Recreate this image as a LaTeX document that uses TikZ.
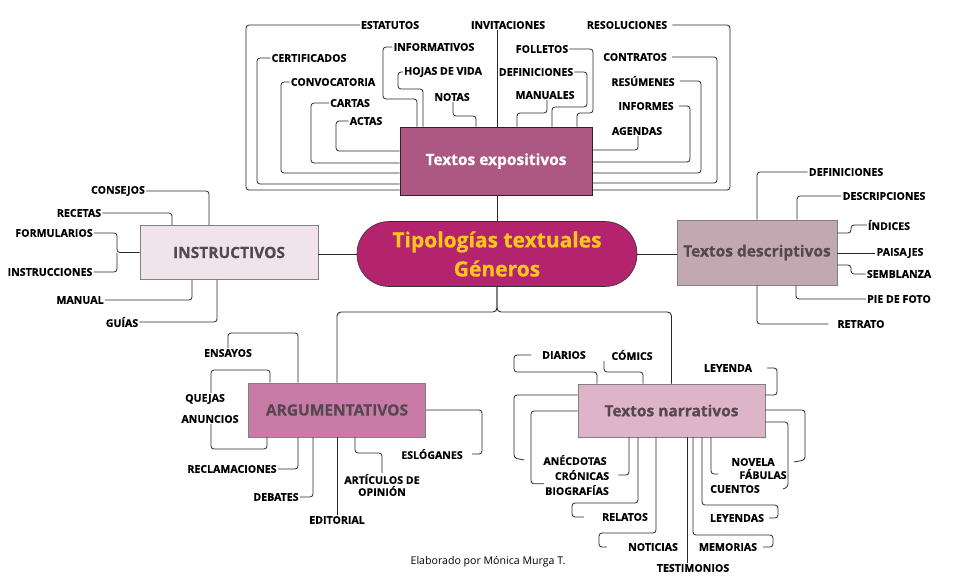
\documentclass[tikz,border=0pt]{standalone}
\usepackage{fontspec}
\setmainfont{Open Sans}
\definecolor{tipoC}{RGB}{180,35,110}
\definecolor{yelC}{RGB}{250,198,30}
\definecolor{expoC}{RGB}{173,87,131}
\definecolor{instrC}{RGB}{240,227,234}
\definecolor{descC}{RGB}{193,168,177}
\definecolor{arguC}{RGB}{199,123,166}
\definecolor{narrC}{RGB}{221,180,200}
\definecolor{boxtxt}{RGB}{85,72,78}
\definecolor{edgeC}{RGB}{40,40,40}
\begin{document}
\begin{tikzpicture}[x=1pt,y=-1pt]
        \tikzstyle{leaf}=[inner sep=1pt, font=\bfseries\fontsize{10.6}{12}\selectfont\addfontfeatures{FakeBold=0.5}, text=black, align=center]
        \tikzstyle{hub}=[rectangle, draw=gray, line width=0.6pt, inner sep=0pt, font=\bfseries\fontsize{15.5}{18}\selectfont\addfontfeatures{FakeBold=0.5}, text=boxtxt]
        \tikzstyle{link}=[edgeC, line width=0.8pt, rounded corners=3pt]
        \tikzstyle{main}=[edgeC, line width=0.9pt, rounded corners=4pt]

        \useasboundingbox (0,0) rectangle (966,578);

        % central node and the five groups
        \node[hub, draw=black!80, fill=tipoC, text=yelC, rounded corners=32pt, minimum width=280pt, minimum height=65pt, align=center, font=\bfseries\fontsize{21}{29}\selectfont\addfontfeatures{FakeBold=0.5}] (tipo) at (497,254) {Tipologías textuales\\Géneros};
        \node[hub, draw=black!85, fill=expoC, text=white, minimum width=192pt, minimum height=68pt] (expo) at (496,161) {Textos expositivos};
        \node[hub, fill=instrC, minimum width=178pt, minimum height=54pt] (instr) at (229,252.5) {INSTRUCTIVOS};
        \node[hub, fill=descC, minimum width=160pt, minimum height=65pt] (desc) at (757,252.5) {Textos descriptivos};
        \node[hub, fill=arguC, minimum width=177pt, minimum height=54pt] (argu) at (337,410) {ARGUMENTATIVOS};
        \node[hub, fill=narrC, minimum width=187pt, minimum height=53pt] (narr) at (671.5,410.5) {Textos narrativos};

        \draw[main] (tipo.north) -- (tipo.north |- expo.south);
        \draw[main] (tipo.west) -- (instr.east |- tipo.west);
        \draw[main] (tipo.east) -- (desc.west |- tipo.east);
        \draw[main] (tipo.south) -- (497,312) -| (argu.north);
        \draw[main] (tipo.south) -- (497,312) -| (narr.north);

        % expositivos
        \node[leaf] (estatutos)    at (390,25)  {ESTATUTOS};
        \node[leaf] (invitaciones) at (508,25)  {INVITACIONES};
        \node[leaf] (resoluciones) at (627,25)  {RESOLUCIONES};
        \node[leaf] (certificados) at (309,58)  {CERTIFICADOS};
        \node[leaf] (informativos) at (434,47)  {INFORMATIVOS};
        \node[leaf] (folletos)     at (542,49)  {FOLLETOS};
        \node[leaf] (contratos)    at (635,57)  {CONTRATOS};
        \node[leaf] (convocatoria) at (333,82)  {CONVOCATORIA};
        \node[leaf] (hojas)        at (443,72)  {HOJAS DE VIDA};
        \node[leaf] (defexpo)      at (536,72)  {DEFINICIONES};
        \node[leaf] (resumenes)    at (643,81)  {RESÚMENES};
        \node[leaf] (cartas)       at (350,103) {CARTAS};
        \node[leaf] (notas)        at (452,97)  {NOTAS};
        \node[leaf] (manuales)     at (545,95)  {MANUALES};
        \node[leaf] (informes)     at (646,106) {INFORMES};
        \node[leaf] (actas)        at (366,121) {ACTAS};
        \node[leaf] (agendas)      at (637,131) {AGENDAS};

        \draw[link] (estatutos.west) -| (246,190) -- (expo.west |- 0,190);
        \draw[link] (certificados.west) -| (257,184) -- (expo.west |- 0,184);
        \draw[link] (convocatoria.west) -| (281,173) -- (expo.west |- 0,173);
        \draw[link] (cartas.west) -| (311,163) -- (expo.west |- 0,163);
        \draw[link] (actas.west) -| (336,151) -- (expo.west |- 0,151);
        \draw[link] (informativos.west) -| (383,99) -| (expo.north -| 417,0);
        \draw[link] (hojas.west) -| (398,89) -| (expo.north -| 423,0);
        \draw[link] (notas.south -| 453,0) |- (476,116) -- (expo.north -| 476,0);
        \draw[link] (invitaciones.south -| 497,0) -- (expo.north -| 497,0);
        \draw[link] (folletos.east) -| (593,113) -| (expo.north -| 577,0);
        \draw[link] (defexpo.east) -| (587,107) -| (expo.north -| 552,0);
        \draw[link] (manuales.south -| 547,0) |- (517,113) -- (expo.north -| 517,0);
        \draw[link] ([xshift=4]resoluciones.east) -| (730,190) -- (expo.east |- 0,190);
        \draw[link] ([xshift=4]contratos.east) -| (717,183) -- (expo.east |- 0,183);
        \draw[link] ([xshift=4]resumenes.east) -| (701,173) -- (expo.east |- 0,173);
        \draw[link] ([xshift=4]informes.east) -| (690,162) -- (expo.east |- 0,162);
        \draw[link] (agendas.south -| 638,0) |- (expo.east |- 0,150);

        % instructivos
        \node[leaf] (consejos)      at (118,191) {CONSEJOS};
        \node[leaf] (recetas)       at (79,213)  {RECETAS};
        \node[leaf] (formularios)   at (54,233)  {FORMULARIOS};
        \node[leaf] (instrucciones) at (50,272)  {INSTRUCCIONES};
        \node[leaf] (manual)        at (80,300)  {MANUAL};
        \node[leaf] (guias)         at (122,322) {GUÍAS};

        \draw[link] (consejos.east) -| (instr.north -| 209,0);
        \draw[link] (recetas.east) -| (instr.north -| 172,0);
        \draw[link] (formularios.east) -| (117,252.5) -- (instr.west);
        \draw[link] (instrucciones.east) -| (117,252.5);
        \draw[link] (manual.east) -| (instr.south -| 192,0);
        \draw[link] (guias.east) -| (instr.south -| 217,0);

        % descriptivos
        \node[leaf] (defdesc)   at (846,172) {DEFINICIONES};
        \node[leaf] (descripc)  at (884,196) {DESCRIPCIONES};
        \node[leaf] (indices)   at (889,225) {ÍNDICES};
        \node[leaf] (paisajes)  at (900,253) {PAISAJES};
        \node[leaf] (semblanza) at (899,274) {SEMBLANZA};
        \node[leaf] (piefoto)   at (899,299) {PIE DE FOTO};
        \node[leaf] (retrato)   at (861,324) {RETRATO};

        \draw[link] (defdesc.west) -| (desc.north -| 757,0);
        \draw[link] (descripc.west) -| (desc.north -| 797,0);
        \draw[link] (desc.east |- 0,233) -| (851,225) -- (indices.west);
        \draw[link] (paisajes.west -| desc.east) -- (paisajes.west);
        \draw[link] (desc.east |- 0,265) -| (851,274) -- (semblanza.west);
        \draw[link] (desc.south -| 796,0) |- (piefoto.west);
        \draw[link] (desc.south -| 757,0) |- ([xshift=-8]retrato.west);

        % argumentativos
        \node[leaf] (ensayos)    at (228,353) {ENSAYOS};
        \node[leaf] (quejas)     at (205,399) {QUEJAS};
        \node[leaf] (anuncios)   at (210,419) {ANUNCIOS};
        \node[leaf] (reclam)     at (232,469) {RECLAMACIONES};
        \node[leaf] (debates)    at (276,497) {DEBATES};
        \node[leaf] (editorial)  at (337,520) {EDITORIAL};
        \node[leaf] (articulos)  at (382,485) {ARTÍCULOS DE\\OPINIÓN};
        \node[leaf] (esloganes)  at (432,454) {ESLÓGANES};

        \draw[link] (ensayos.north) |- (298,333) -- (argu.north -| 298,0);
        \draw[link] (argu.north -| 270,0) |- (211,370) -- (quejas.north -| 211,0);
        \draw[link] (argu.south -| 267,0) |- (211,449) -- (anuncios.south -| 211,0);
        \draw[link] (reclam.east) -| (argu.south -| 298,0);
        \draw[link] (debates.east) -| (argu.south -| 313,0);
        \draw[link] (argu.south) -- (editorial.north);
        \draw[link] (argu.south -| 355,0) |- (382,453) -- (articulos.north);
        \draw[link] (argu.east) -| (482,454) -- ([xshift=8]esloganes.east);

        % narrativos
        \node[leaf] (diarios)     at (564,355) {DIARIOS};
        \node[leaf] (comics)      at (632,355) {CÓMICS};
        \node[leaf] (leyenda)     at (728,368) {LEYENDA};
        \node[leaf] (anecdotas)   at (575,460) {ANÉCDOTAS};
        \node[leaf] (cronicas)    at (582,475) {CRÓNICAS};
        \node[leaf] (biografias)  at (577,490) {BIOGRAFÍAS};
        \node[leaf] (novela)      at (753,462) {NOVELA};
        \node[leaf] (fabulas)     at (763,474) {FÁBULAS};
        \node[leaf] (cuentos)     at (735,489) {CUENTOS};
        \node[leaf] (relatos)     at (625,517) {RELATOS};
        \node[leaf] (leyendas)    at (737,518) {LEYENDAS};
        \node[leaf] (noticias)    at (653,547) {NOTICIAS};
        \node[leaf] (memorias)    at (728,547) {MEMORIAS};
        \node[leaf] (testimonios) at (693,568) {TESTIMONIOS};

        \draw[link] (narr.north -| 597,0) |- (514,372) |- ([xshift=-10]diarios.west);
        \draw[link] (narr.north -| 643,0) |- (604,372) -- (comics.south west -| 604,0);
        \draw[link] ([xshift=14]leyenda.east) -| (777,395) -- (narr.east |- 0,395);
        \draw[link] (narr.west |- 0,395) -| (514,458) -- ([xshift=-18]anecdotas.west);
        \draw[link] (narr.west |- 0,411) -| ([xshift=-13]biografias.north west) -- (biografias.north west);
        \draw[link] (narr.south -| 629,0) |- ([xshift=8]cronicas.east);
        \draw[link] (narr.south -| 638,0) |- (572,503) |- ([xshift=-17]relatos.west);
        \draw[link] (narr.south -| 656,0) |- (599,533) |- ([xshift=-20]noticias.west);
        \draw[link] (narr.south -| 687,0) -- (testimonios.north -| 687,0);
        \draw[link] (narr.south -| 693,0) |- (773,535) |- ([xshift=5]memorias.east);
        \draw[link] (narr.south -| 702,0) |- (778,505) |- ([xshift=4]leyendas.east);
        \draw[link] (narr.south -| 711,0) |- ([xshift=-20]fabulas.west);
        \draw[link] (narr.east |- 0,410) -| (805,460) -- ([xshift=18]novela.east);
        \draw[link] (narr.east |- 0,422) -| (788,487) -- ([xshift=22]cuentos.east);

        \node[font=\fontsize{10.6}{12}\selectfont] (foot) at (488,562) {Elaborado por Mónica Murga T.};
\end{tikzpicture}
\end{document}
